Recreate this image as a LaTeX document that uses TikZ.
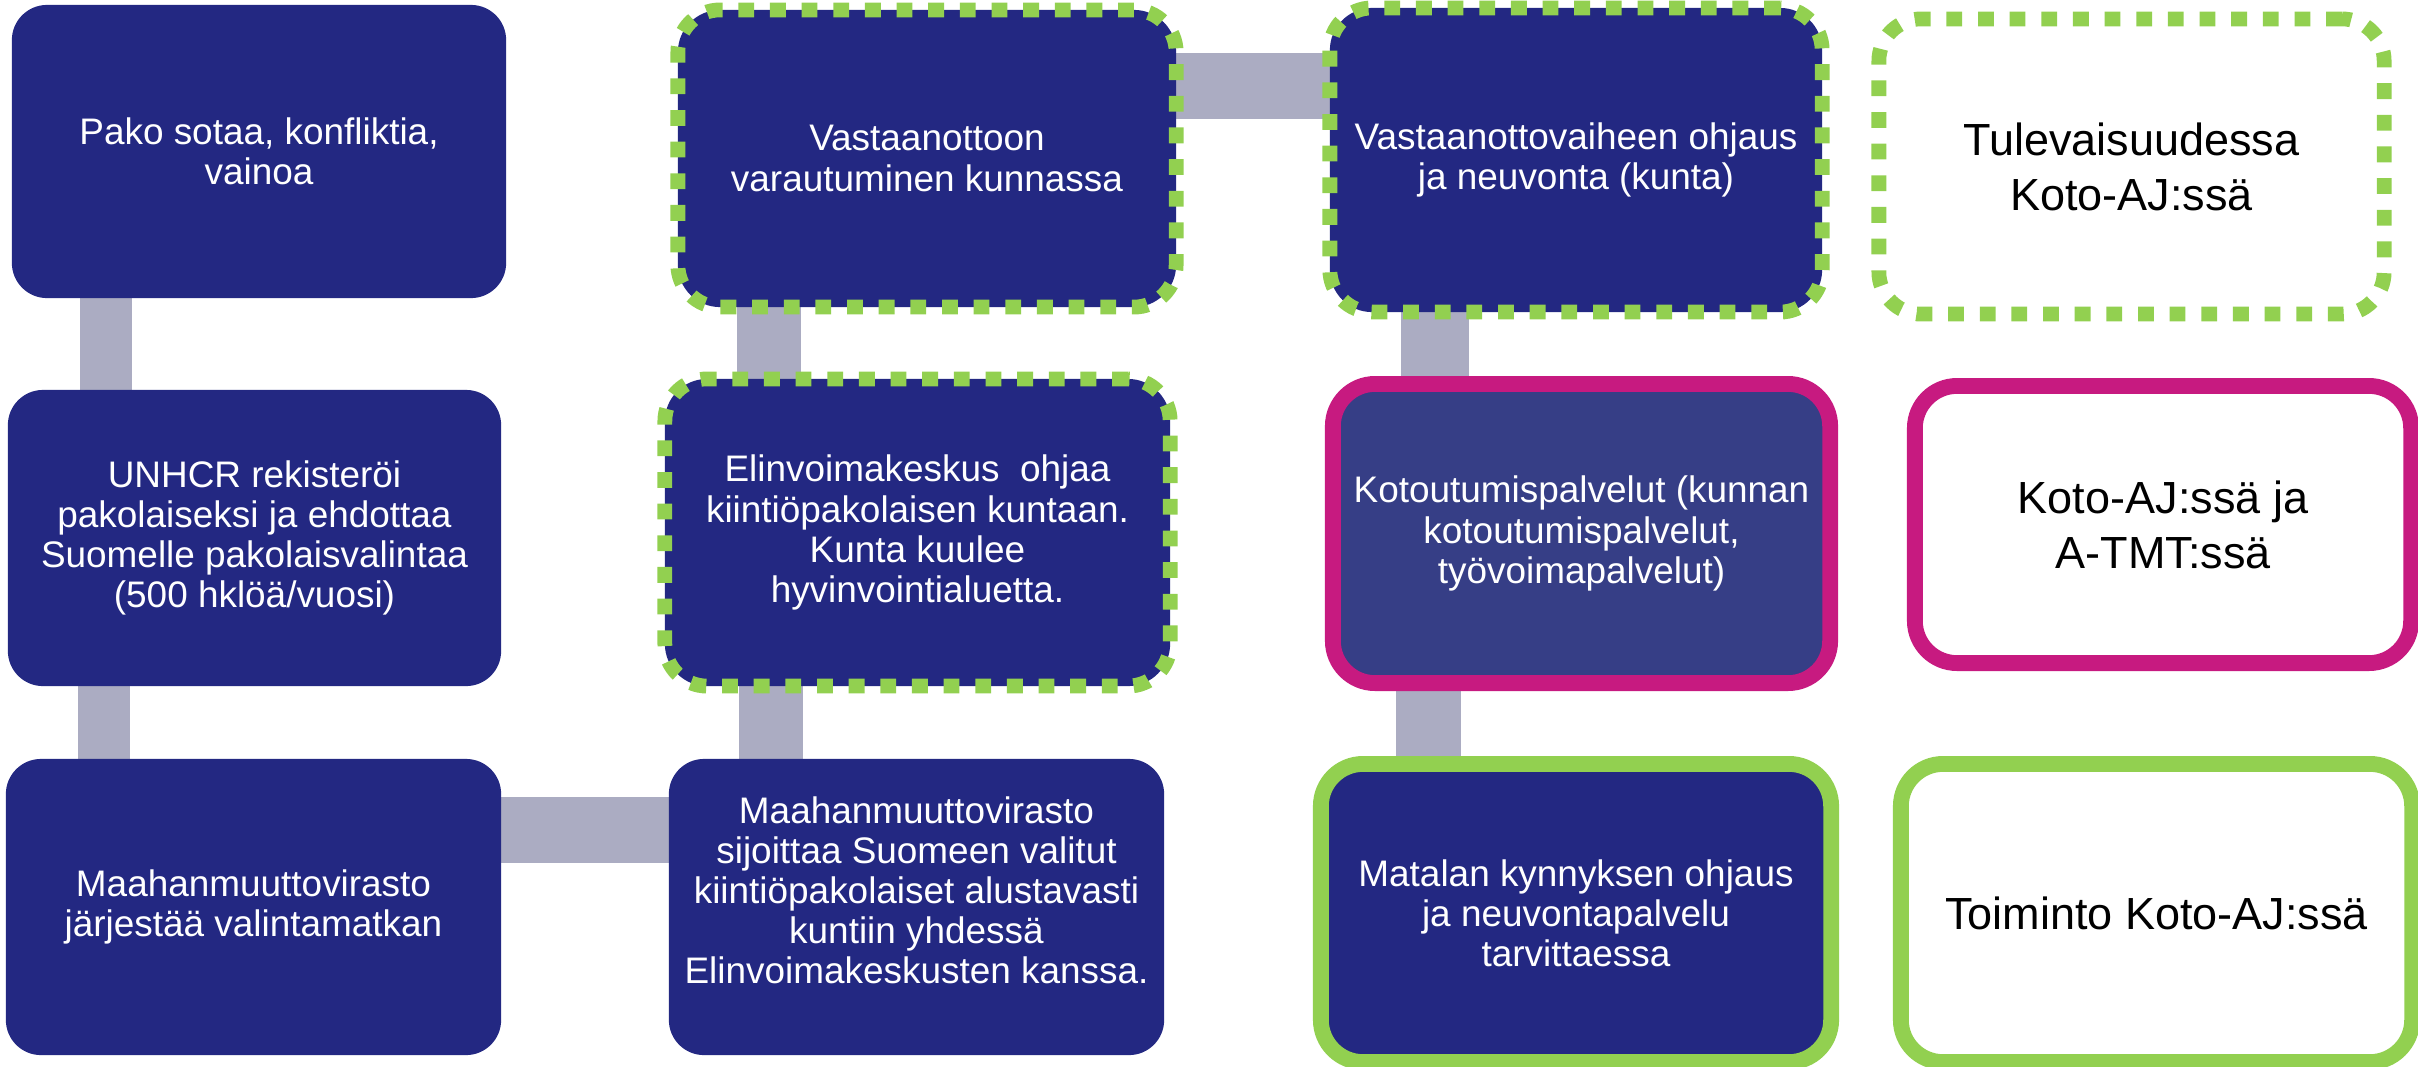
\documentclass[tikz,border=0pt]{standalone}
\usepackage{fontspec}
\setmainfont{Liberation Sans}
\usepackage{tikz}
\usetikzlibrary{backgrounds}
\definecolor{navy}{HTML}{232882}
\definecolor{lightnavy}{HTML}{363E86}
\definecolor{kgreen}{HTML}{92D050}
\definecolor{kmagenta}{HTML}{C71A80}
\definecolor{conngray}{HTML}{ABACC2}
\tikzset{mybox/.style={rectangle,rounded corners=10pt,fill=navy,text=white,align=center,inner sep=0pt,outer sep=0pt,font=\fontsize{10.5}{11.4}\selectfont},
mydottedbox/.style={mybox,draw=kgreen,line width=4.2pt,dash pattern=on 4.5pt off 4.5pt,rounded corners=12pt},
myframedbox/.style={mybox,line width=4.5pt,rounded corners=12pt},
mywhitebox/.style={fill=white,text=black,font=\fontsize{12.8}{15.6}\selectfont},
mytext/.style={text=white,align=center,inner sep=0pt,font=\fontsize{10.5}{11.4}\selectfont},
myconnector/.style={draw=conngray,line width=#1},
myconnector/.default=0.65cm}

\begin{document}
\begin{tikzpicture}[x=0.01cm,y=-0.01cm]
\useasboundingbox (0,0) rectangle (2418,1066);

\node[mybox,minimum width=4.94cm,minimum height=2.93cm] (pako) at (259,151.5) {Pako sotaa, konfliktia,\\vainoa};
\node[mybox,minimum width=4.93cm,minimum height=2.96cm] (unhcr) at (254.5,538) {UNHCR rekisteröi\\pakolaiseksi ja ehdottaa\\Suomelle pakolaisvalintaa\\(500 hklöä/vuosi)};
\node[mybox,minimum width=4.95cm,minimum height=2.96cm] (matka) at (253.5,907) {Maahanmuuttovirasto\\järjestää valintamatkan};

\node[mydottedbox,minimum width=4.98cm,minimum height=2.97cm] (varautuminen) at (927,158.5) {Vastaanottoon\\varautuminen kunnassa};
\node[mydottedbox,minimum width=5.05cm,minimum height=3.07cm] (elinvoima) at (917.5,532.5) {Elinvoimakeskus \ ohjaa\\kiintiöpakolaisen kuntaan.\\Kunta kuulee\\hyvinvointialuetta.};
\node[mybox,minimum width=4.95cm,minimum height=2.96cm] (sijoitus) at (916.5,907) {};
\node[mytext] (sijoitusteksti) at ([yshift=0.17cm]sijoitus.center) {Maahanmuuttovirasto\\sijoittaa Suomeen valitut\\kiintiöpakolaiset alustavasti\\kuntiin yhdessä\\Elinvoimakeskusten kanssa.};

\node[mydottedbox,minimum width=4.92cm,minimum height=3.04cm] (ohjaus) at (1576,160) {Vastaanottovaiheen ohjaus\\ja neuvonta (kunta)};
\node[myframedbox,draw=kmagenta,fill=lightnavy,minimum width=4.97cm,minimum height=2.99cm] (kotoutuminen) at (1581.5,533.5) {Kotoutumispalvelut (kunnan\\kotoutumispalvelut,\\työvoimapalvelut)};
\node[myframedbox,draw=kgreen,minimum width=5.10cm,minimum height=2.98cm] (matala) at (1576,913) {Matalan kynnyksen ohjaus\\ja neuvontapalvelu\\tarvittaessa};

\node[mydottedbox,mywhitebox,minimum width=5.05cm,minimum height=2.95cm] (tulevaisuus) at (2131.5,166.5) {Tulevaisuudessa\\Koto-AJ:ssä};
\node[myframedbox,mywhitebox,draw=kmagenta,minimum width=4.96cm,minimum height=2.77cm] (kotoatmt) at (2163,524.5) {Koto-AJ:ssä ja\\A-TMT:ssä};
\node[myframedbox,mywhitebox,draw=kgreen,minimum width=5.11cm,minimum height=2.98cm] (toiminto) at (2156.5,913) {Toiminto Koto-AJ:ssä};

\begin{scope}[on background layer]
\draw[myconnector=0.52cm] (pako.south -| 106,0) -- (unhcr.north -| 106,0);
\draw[myconnector=0.52cm] (unhcr.south -| 104,0) -- (matka.north -| 104,0);
\draw[myconnector=0.66cm] (matka.east |- 0,830) -- (sijoitus.west |- 0,830);
\draw[myconnector=0.64cm] (sijoitus.north -| 771,0) -- (elinvoima.south -| 771,0);
\draw[myconnector=0.64cm] (elinvoima.north -| 769,0) -- (varautuminen.south -| 769,0);
\draw[myconnector=0.66cm] (varautuminen.east |- 0,86) -- (ohjaus.west |- 0,86);
\draw[myconnector=0.67cm] (ohjaus.south -| 1435,0) -- (kotoutuminen.north -| 1435,0);
\draw[myconnector=0.65cm] (kotoutuminen.south -| 1428,0) -- (matala.north -| 1428,0);
\end{scope}
\end{tikzpicture}
\end{document}
